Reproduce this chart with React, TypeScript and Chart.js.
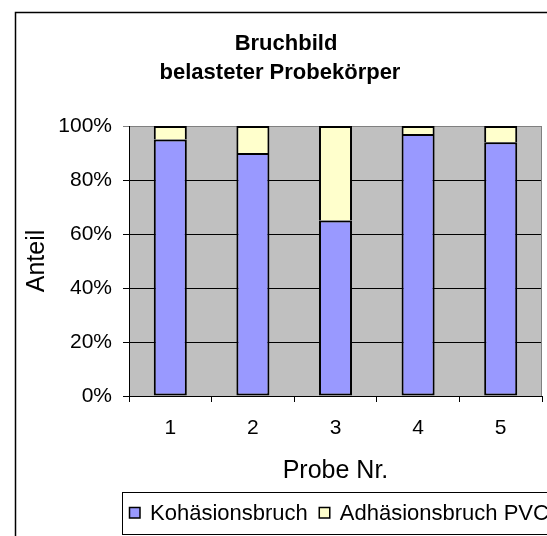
import React, { useEffect, useRef } from 'react';
import { Chart, registerables } from 'chart.js';

Chart.register(...registerables);

const categories = ['1', '2', '3', '4', '5'];
const kohaesion = [95, 90, 65, 97, 94];
const adhaesion = [5, 10, 35, 3, 6];
const seriesNames = ['Kohäsionsbruch', 'Adhäsionsbruch PVC'];
const titleLines = ['Bruchbild', 'belasteter Probekörper'];
const xTitle = 'Probe Nr.';
const yTitle = 'Anteil';

const FONT = '"Liberation Sans", Arial, sans-serif';

const decor = {
  id: 'decor',
  beforeDraw(chart: any) {
    const { ctx, chartArea: a } = chart;
    ctx.save();
    ctx.fillStyle = '#C0C0C0';
    ctx.fillRect(a.left, a.top, a.right - a.left, a.bottom - a.top);
    ctx.strokeStyle = '#000';
    ctx.lineWidth = 1.5;
    ctx.beginPath();
    ctx.moveTo(15.5, 700);
    ctx.lineTo(15.5, 12.5);
    ctx.lineTo(700, 12.5);
    ctx.stroke();
    ctx.fillStyle = '#000';
    ctx.font = `bold 22px ${FONT}`;
    ctx.textAlign = 'center';
    ctx.textBaseline = 'middle';
    ctx.fillText(titleLines[0], 286, 44);
    ctx.fillText(titleLines[1], 280, 73);
    ctx.restore();
  },
  beforeDatasetsDraw(chart: any) {
    const { ctx, chartArea: a } = chart;
    ctx.save();
    ctx.strokeStyle = '#808080';
    ctx.lineWidth = 1;
    ctx.beginPath();
    ctx.moveTo(a.right - 0.5, a.top);
    ctx.lineTo(a.right - 0.5, a.bottom);
    ctx.stroke();
    ctx.restore();
  },
  afterDraw(chart: any) {
    const { ctx } = chart;
    ctx.save();
    ctx.strokeStyle = '#000';
    ctx.lineWidth = 1;
    ctx.strokeRect(122.5, 492.5, 600, 42);
    ctx.font = `22px ${FONT}`;
    ctx.textAlign = 'left';
    ctx.textBaseline = 'middle';
    let x = 129;
    chart.data.datasets.forEach((ds: any) => {
      ctx.fillStyle = ds.backgroundColor;
      ctx.fillRect(x, 507, 11, 11);
      ctx.lineWidth = 1.5;
      ctx.strokeRect(x + 0.5, 507.5, 10.5, 10.5);
      ctx.fillStyle = '#000';
      ctx.fillText(ds.label, x + 21, 514);
      x += 21 + ctx.measureText(ds.label).width + 11;
    });
    ctx.restore();
  },
};

export default function App() {
  const ref = useRef<HTMLCanvasElement>(null);
  useEffect(() => {
    if (!ref.current) return;
    Chart.defaults.font.family = FONT;
    const chart = new Chart(ref.current, {
      type: 'bar',
      data: {
        labels: categories,
        datasets: [
          {
            label: seriesNames[0],
            data: kohaesion,
            backgroundColor: '#9999FF',
            borderColor: '#000',
            borderWidth: 2,
            borderSkipped: false,
            barPercentage: 0.4,
            categoryPercentage: 1,
          },
          {
            label: seriesNames[1],
            data: adhaesion,
            backgroundColor: '#FFFFCC',
            borderColor: '#000',
            borderWidth: 2,
            borderSkipped: 'start',
            barPercentage: 0.4,
            categoryPercentage: 1,
          },
        ],
      },
      options: {
        responsive: false,
        animation: false,
        devicePixelRatio: 1,
        layout: { padding: { top: 126, left: 15, right: 5, bottom: 50 } },
        plugins: {
          legend: { display: false },
          title: { display: false },
          tooltip: { enabled: false },
        },
        scales: {
          x: {
            stacked: true,
            offset: true,
            grid: { offset: true, drawOnChartArea: false, drawTicks: true, tickLength: 6, color: '#000' },
            border: { color: '#000', width: 1 },
            ticks: { color: '#000', padding: 14, font: { size: 21 } },
            title: { display: true, text: xTitle, color: '#000', font: { size: 25 }, padding: { top: 0, bottom: 0 } },
            afterFit: (s: any) => { s.height = 90; },
          },
          y: {
            stacked: true,
            min: 0,
            max: 100,
            grid: {
              color: (c: any) => (c.tick && c.tick.value === 100 ? '#808080' : '#000'),
              tickLength: 6,
              drawTicks: true,
            },
            border: { color: '#000', width: 1 },
            ticks: {
              stepSize: 20,
              color: '#000',
              padding: 11,
              font: { size: 21 },
              callback: (v: any) => v + '%',
            },
            title: { display: true, text: yTitle, color: '#000', font: { size: 25 }, padding: { top: 7, bottom: 0 } },
            afterFit: (s: any) => { s.width = 114; },
          },
        },
      },
      plugins: [decor],
    });
    return () => chart.destroy();
  }, []);
  return (
    <div style={{ position: 'fixed', left: 0, top: 0, width: 547, height: 536, overflow: 'hidden', background: '#fff' }}>
      <canvas ref={ref} width={547} height={536} />
    </div>
  );
}
